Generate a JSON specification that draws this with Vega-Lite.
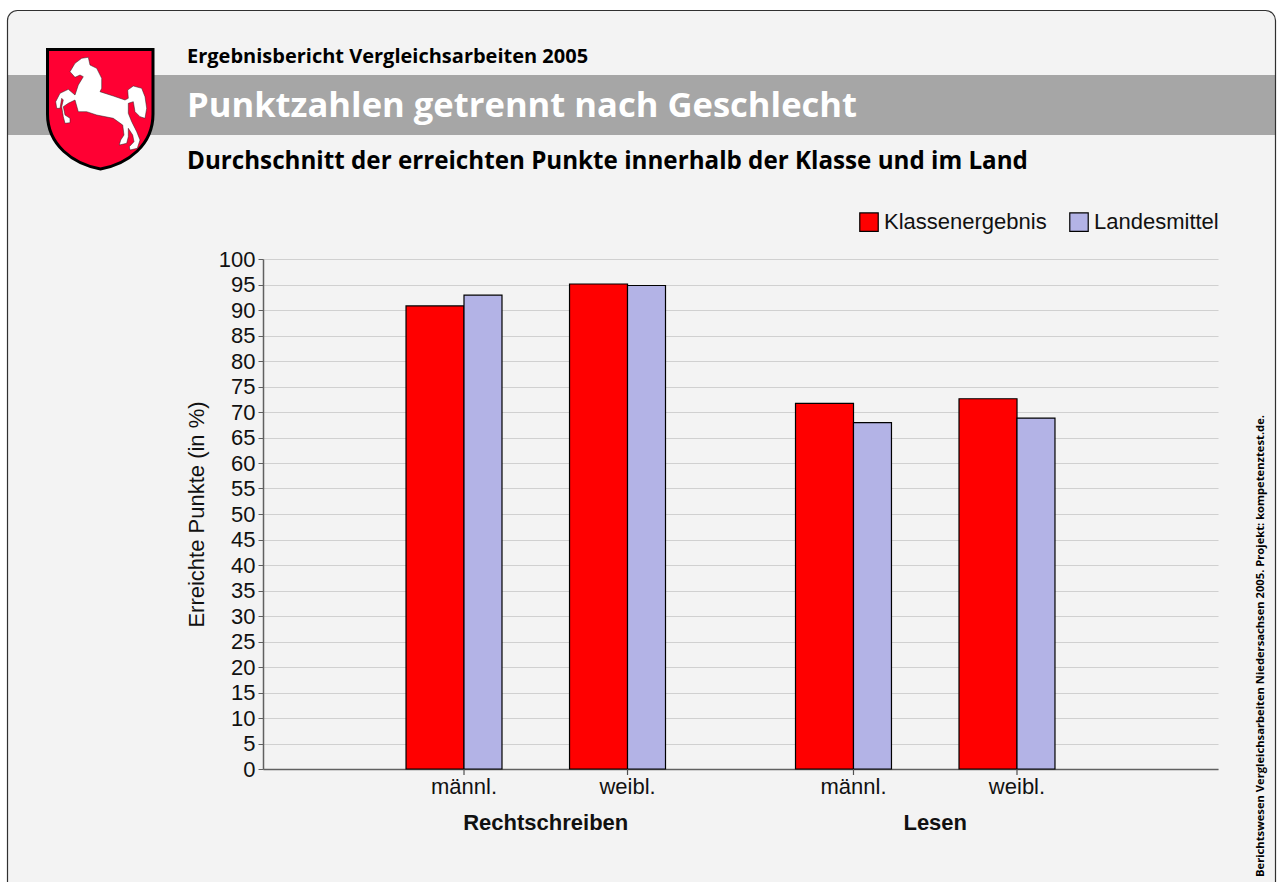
{
"$schema":"https://vega.github.io/schema/vega-lite/v6.json",
"autosize":"none","width":955,"height":510,
"padding":{"left":263,"top":259,"right":60,"bottom":113},
"background":"#f3f3f3",
"config":{"view":{"stroke":null},"font":"Liberation Sans"},
"data":{"values":[
{"Fach":"Rechtschreiben","Geschlecht":"männl.","Reihe":"Klassenergebnis","Punkte":90.8},
{"Fach":"Rechtschreiben","Geschlecht":"männl.","Reihe":"Landesmittel","Punkte":92.9},
{"Fach":"Rechtschreiben","Geschlecht":"weibl.","Reihe":"Klassenergebnis","Punkte":95.1},
{"Fach":"Rechtschreiben","Geschlecht":"weibl.","Reihe":"Landesmittel","Punkte":94.8},
{"Fach":"Lesen","Geschlecht":"männl.","Reihe":"Klassenergebnis","Punkte":71.7},
{"Fach":"Lesen","Geschlecht":"männl.","Reihe":"Landesmittel","Punkte":67.9},
{"Fach":"Lesen","Geschlecht":"weibl.","Reihe":"Klassenergebnis","Punkte":72.6},
{"Fach":"Lesen","Geschlecht":"weibl.","Reihe":"Landesmittel","Punkte":68.8}
]},
"encoding":{
"x":{"field":"Fach","type":"nominal","sort":["Rechtschreiben","Lesen"],
 "scale":{"paddingInner":0,"paddingOuter":0.226},
 "axis":{"title":null,"ticks":false,"labelAngle":0,"labelPadding":43,"labelFontSize":22,"labelFontWeight":"bold","labelColor":"#111111","domainColor":"#606060","domainWidth":1.5,"grid":false}}
},
"resolve":{"scale":{"xOffset":"independent"}},
"layer":[
{"data":{"values":[{}]},"mark":{"type":"rect","fill":"#a6a6a6"},"encoding":{"x":{"value":-256},"x2":{"value":1013},"y":{"value":-184},"y2":{"value":-124}}},
{"data":{"values":[{}]},"mark":{"type":"rect","fill":null,"stroke":"#ffffff","strokeWidth":20,"cornerRadius":20},"encoding":{"x":{"value":-265.5},"x2":{"value":1022.5},"y":{"value":-258.5},"y2":{"value":660}}},
{"data":{"values":[{}]},"mark":{"type":"rect","fill":null,"stroke":"#303030","strokeWidth":1.2,"cornerRadius":10},"encoding":{"x":{"value":-255.5},"x2":{"value":1012.5},"y":{"value":-248.5},"y2":{"value":650}}},
{"data":{"values":[{}]},"mark":{"type":"point","filled":true,"opacity":1,"x":-263,"y":-259,"size":4,"fill":"#ff0033","stroke":"#000000","strokeWidth":3,
 "shape":"M47.5,49.5L153,49.5L153,114C153,145 128,164 100.5,169C73,164 47.5,145 47.5,114Z"},"encoding":{"x":null}},
{"data":{"values":[{}]},"mark":{"type":"point","filled":true,"opacity":1,"x":-263,"y":-259,"size":4,"fill":"#ffffff","stroke":"#222222","strokeWidth":0.5,
 "shape":"M88.3,57.3L90,65L96.7,68.3L101.7,78.3L101.7,88.3L100,91.7L113.3,96L125,100L128.3,98.3L127.7,90L133.3,86L141.7,88.3L145,96.7L146.7,108.3L145,118.3L140,116.7L135,111.7L133.3,101.7L128.3,103.3L128.3,113.3L131.7,121.7L136.7,131.7L140,140L137.3,148.3L130,150L129.3,146.7L134,141.7L132.7,135L128.3,128.3L128.3,136.7L126.7,143.3L119.3,145L120.7,140L124,135L122.7,125L113.3,118.3L96.7,115L86.7,111.7L78.3,111.7L75,100L68.3,103.3L63.3,106.7L65,115L70,118.3L70,122.7L65,123.3L63.3,116.7L61.7,106.7L63.3,100L61.7,98.3L60,108.3L56.7,108.3L55.7,101.7L60,93.3L68.3,89.3L75,95L78.3,85L83.3,76.7L80,75L75,77.3L70,71.7L75,63.3L81.7,58.3Z"},"encoding":{"x":null}},
{"data":{"values":[{}]},"mark":{"type":"text","x":-76,"y":-196,"align":"left","baseline":"alphabetic","font":"Open Sans","fontWeight":"bold","fontSize":20,"fill":"#000000"},"encoding":{"x":null,"text":{"value":"Ergebnisbericht Vergleichsarbeiten 2005"}}},
{"data":{"values":[{}]},"mark":{"type":"text","x":-76,"y":-142,"align":"left","baseline":"alphabetic","font":"Open Sans","fontWeight":"bold","fontSize":34.6,"fill":"#ffffff"},"encoding":{"x":null,"text":{"value":"Punktzahlen getrennt nach Geschlecht"}}},
{"data":{"values":[{}]},"mark":{"type":"text","x":-76,"y":-90,"align":"left","baseline":"alphabetic","font":"Open Sans","fontWeight":"bold","fontSize":24.2,"fill":"#000000"},"encoding":{"x":null,"text":{"value":"Durchschnitt der erreichten Punkte innerhalb der Klasse und im Land"}}},
{"data":{"values":[{}]},"mark":{"type":"text","x":1001,"y":618,"angle":270,"align":"left","baseline":"alphabetic","font":"Open Sans","fontWeight":"bold","fontSize":11.2,"fill":"#000000"},"encoding":{"x":null,"text":{"value":"Berichtswesen Vergleichsarbeiten Niedersachsen 2005. Projekt: kompetenztest.de."}}},
{"transform":[{"filter":"datum.Reihe==='Klassenergebnis'"}],
 "mark":{"type":"bar","width":58,"stroke":"#000000","strokeWidth":1.2},
 "encoding":{
  "xOffset":{"field":"Geschlecht","type":"nominal","sort":["männl.","weibl."],"scale":{"paddingInner":0,"paddingOuter":0.191,"align":0.036}},
  "y":{"field":"Punkte","type":"quantitative","scale":{"domain":[0,100],"nice":false},
  "axis":{"title":"Erreichte Punkte (in %)","values":[0,5,10,15,20,25,30,35,40,45,50,55,60,65,70,75,80,85,90,95,100],"grid":true,"gridColor":"#d0d0d0","gridWidth":1.2,"tickColor":"#606060","tickSize":5,"domainColor":"#606060","domainWidth":1.5,"labelFontSize":22,"labelColor":"#111111","labelPadding":3,"titleFontSize":22,"titleFontWeight":"normal","titleColor":"#111111","titlePadding":10,"labelOverlap":false}},
  "color":{"field":"Reihe","type":"nominal","scale":{"domain":["Klassenergebnis","Landesmittel"],"range":["#ff0000","#b3b3e6"]},
  "legend":{"title":null,"orient":"none","legendX":595,"legendY":-48,"direction":"horizontal","columns":2,"symbolType":"square","symbolSize":340,"symbolStrokeColor":"#000000","symbolStrokeWidth":1.2,"symbolOpacity":1,"labelFontSize":22,"labelColor":"#111111","labelOffset":4,"labelLimit":300,"columnPadding":20}}}},
{"transform":[{"filter":"datum.Reihe==='Landesmittel'"}],
 "mark":{"type":"bar","width":38,"stroke":"#000000","strokeWidth":1.2},
 "encoding":{
  "xOffset":{"field":"Geschlecht","type":"nominal","sort":["männl.","weibl."],"scale":{"paddingInner":0,"paddingOuter":0.191,"align":0.804}},
  "y":{"field":"Punkte","type":"quantitative","scale":{"domain":[0,100],"nice":false},
  "axis":{"title":"Erreichte Punkte (in %)","values":[0,5,10,15,20,25,30,35,40,45,50,55,60,65,70,75,80,85,90,95,100],"grid":true,"gridColor":"#d0d0d0","gridWidth":1.2,"tickColor":"#606060","tickSize":5,"domainColor":"#606060","domainWidth":1.5,"labelFontSize":22,"labelColor":"#111111","labelPadding":3,"titleFontSize":22,"titleFontWeight":"normal","titleColor":"#111111","titlePadding":10,"labelOverlap":false}},
  "color":{"field":"Reihe","type":"nominal"}}},
{"transform":[{"filter":"datum.Reihe==='Klassenergebnis'"}],
 "mark":{"type":"rule","color":"#505050","strokeWidth":1.2,"opacity":1},
 "encoding":{"xOffset":{"field":"Geschlecht","type":"nominal","sort":["männl.","weibl."],"scale":{"type":"band","paddingInner":0,"paddingOuter":0.191}},"y":{"value":510},"y2":{"value":516}}},
{"transform":[{"filter":"datum.Reihe==='Klassenergebnis'"}],
 "mark":{"type":"text","baseline":"top","fontSize":22,"fill":"#111111"},
 "encoding":{"xOffset":{"field":"Geschlecht","type":"nominal","sort":["männl.","weibl."],"scale":{"type":"band","paddingInner":0,"paddingOuter":0.191}},"y":{"value":518},"text":{"field":"Geschlecht"}}}
]
}
